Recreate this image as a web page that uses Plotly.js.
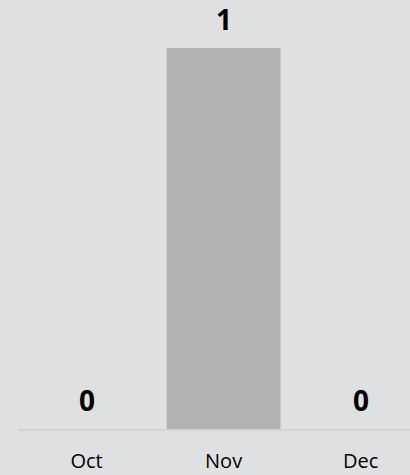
<!DOCTYPE html>
<html>
<head>
<meta charset="utf-8">
<script src="https://cdn.plot.ly/plotly-3.0.1.min.js"></script>
<style>html,body{margin:0;padding:0;background:#dfe0e2;}#chart{width:410px;height:475px;}</style>
</head>
<body>
<div id="chart"></div>
<script>
const months = ["Oct", "Nov", "Dec"];
const counts = [0, 1, 0];

const annotations = months.map((m, i) => ({
  x: m, y: counts[i], xref: "x", yref: "y",
  text: "<b>" + counts[i] + "</b>",
  showarrow: false, yanchor: "bottom", yshift: 8,
  font: {family: "Open Sans", size: 28, color: "#000000"}
}));

Plotly.newPlot("chart", [{
  type: "bar",
  x: months,
  y: counts,
  marker: {color: "#b3b3b3"},
  hoverinfo: "none",
  cliponaxis: false
}], {
  width: 410, height: 475,
  margin: {l: 18, r: 0, t: 48, b: 46, pad: 0},
  paper_bgcolor: "#dfe0e2",
  plot_bgcolor: "#dfe0e2",
  bargap: 0.17,
  showlegend: false,
  xaxis: {
    range: [-0.5, 2.36],
    showgrid: false, zeroline: false,
    showline: true, linecolor: "#d2d3d5", linewidth: 2,
    ticks: "", ticklabelstandoff: 13,
    tickfont: {family: "Open Sans", size: 20, color: "#000000"}
  },
  yaxis: {
    range: [0, 1],
    visible: false, showgrid: false, zeroline: false, fixedrange: true
  },
  annotations: annotations
}, {displayModeBar: false, staticPlot: true});
</script>
</body>
</html>
